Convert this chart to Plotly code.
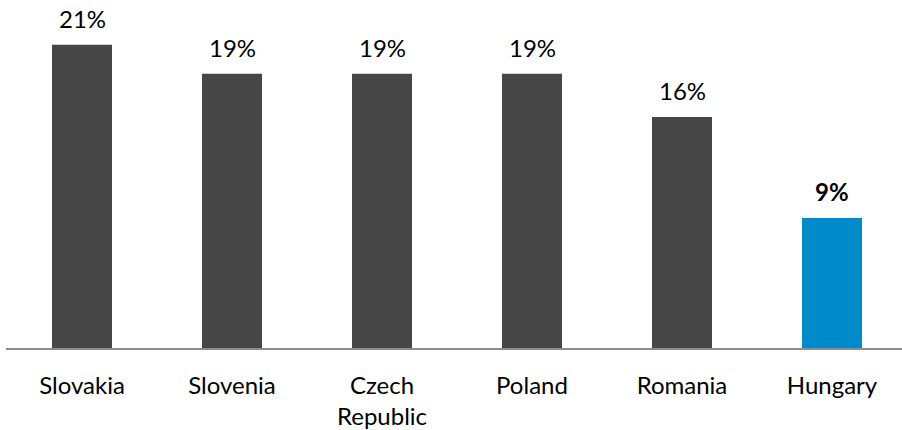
import plotly.graph_objects as go

countries = ["Slovakia", "Slovenia", "Czech Republic", "Poland", "Romania", "Hungary"]
tick_labels = ["Slovakia", "Slovenia", "Czech<br>Republic", "Poland", "Romania", "Hungary"]
values = [0.21, 0.19, 0.19, 0.19, 0.16, 0.09]
value_labels = ["21%", "19%", "19%", "19%", "16%", "9%"]
bar_colors = ["#464646", "#464646", "#464646", "#464646", "#464646", "#008AC9"]

FONT = "Lato, Calibri, Carlito, sans-serif"

fig = go.Figure(go.Bar(
    x=countries, y=values, marker_color=bar_colors, width=0.4,
    marker_line_width=0, hoverinfo="skip",
))

for c, v, lab in zip(countries, values, value_labels):
    bold = c == "Hungary"
    fig.add_annotation(
        x=c, y=v, text=f"<b>{lab}</b>" if bold else lab, showarrow=False,
        yanchor="bottom", yshift=11, borderpad=0,
        font=dict(family=FONT, size=24, color="#000000"),
    )

fig.update_layout(
    width=902, height=430,
    margin=dict(l=6, r=0, t=0, b=80),
    paper_bgcolor="white", plot_bgcolor="white",
    showlegend=False,
    font=dict(family=FONT, size=24, color="#000000"),
    xaxis=dict(
        type="category", range=[-0.5067, 5.4667],
        tickvals=countries, ticktext=tick_labels,
        showline=True, linecolor="#8C8C8C", linewidth=2,
        showgrid=False, zeroline=False,
        ticks="outside", ticklen=15, tickcolor="rgba(0,0,0,0)",
        tickfont=dict(family=FONT, size=24, color="#000000"),
    ),
    yaxis=dict(range=[0, 0.2410], visible=False, showgrid=False, zeroline=False),
)

fig.write_html("out.html", post_script="document.body.style.margin='0';",
               config={"displayModeBar": False})
